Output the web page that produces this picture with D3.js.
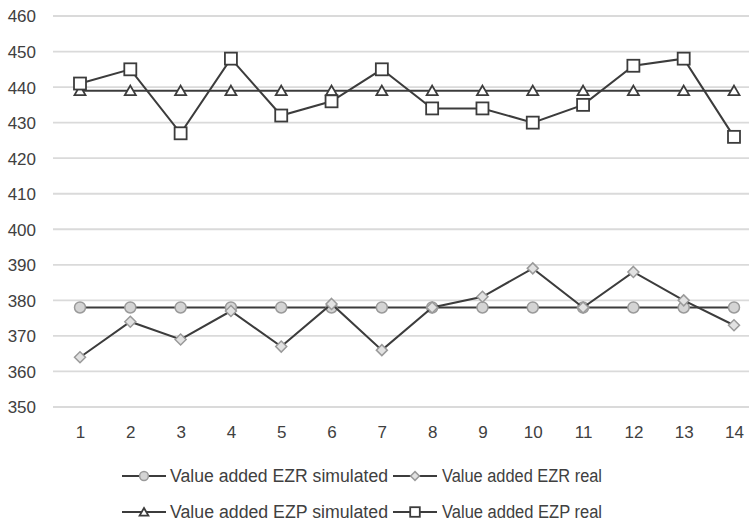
<!DOCTYPE html>
<html><head><meta charset="utf-8">
<script src="https://cdn.jsdelivr.net/npm/d3@7"></script>
<style>body{margin:0;background:#fff;} svg{display:block;}</style>
</head><body>
<svg id="c" width="750" height="522"></svg>
<script>
const categories = [1,2,3,4,5,6,7,8,9,10,11,12,13,14];
const ezrSimulated = [378,378,378,378,378,378,378,378,378,378,378,378,378,378];
const ezrReal = [364,374,369,377,367,379,366,378,381,389,378,388,380,373];
const ezpSimulated = [439,439,439,439,439,439,439,439,439,439,439,439,439,439];
const ezpReal = [441,445,427,448,432,436,445,434,434,430,435,446,448,426];
const yTicks = [350,360,370,380,390,400,410,420,430,440,450,460];
const seriesNames = ["Value added EZR simulated","Value added EZR real","Value added EZP simulated","Value added EZP real"];

const svg = d3.select("#c");
const x = d3.scalePoint().domain(categories).range([80,734]);
const y = d3.scaleLinear().domain([350,460]).range([407,16]);
const ink = "#3c3c3c";
const font = "Liberation Sans, Arial, sans-serif";

// gridlines
svg.append("g").selectAll("line").data(yTicks).join("line")
  .attr("x1",53).attr("x2",749)
  .attr("y1",d=>y(d)).attr("y2",d=>y(d))
  .attr("stroke","#dadada").attr("stroke-width",1.8);

// y axis labels
const yAxis = d3.axisLeft(y).tickValues(yTicks).tickSize(0).tickPadding(0);
const gy = svg.append("g").attr("transform","translate(36,0)").call(yAxis);
gy.select(".domain").remove();
gy.selectAll("text").attr("font-family",font).attr("font-size",17).attr("fill","#404040").attr("dy","0.35em");

// x axis labels
const xAxis = d3.axisBottom(x).tickSize(0).tickPadding(0);
const gx = svg.append("g").attr("transform","translate(0,432)").call(xAxis);
gx.select(".domain").remove();
gx.selectAll("text").attr("font-family",font).attr("font-size",17).attr("fill","#404040").attr("dy","0.35em");

const line = d3.line().x((d,i)=>x(categories[i])).y(d=>y(d));

function drawMarker(g, type, cx, cy, k){
  k = k || 1;
  if(type==="circle"){
    g.append("circle").attr("cx",cx).attr("cy",cy).attr("r",5.5*k)
      .attr("fill","#d4d4d4").attr("stroke","#9a9a9a").attr("stroke-width",1.5);
  } else if(type==="diamond"){
    const s=5.5*k;
    g.append("path").attr("d",`M${cx},${cy-s}L${cx+s},${cy}L${cx},${cy+s}L${cx-s},${cy}Z`)
      .attr("fill","#e2e2e2").attr("stroke","#9a9a9a").attr("stroke-width",1.5);
  } else if(type==="triangle"){
    g.append("path").attr("d",`M${cx},${cy-5*k}L${cx+5.5*k},${cy+4.5*k}L${cx-5.5*k},${cy+4.5*k}Z`)
      .attr("fill","#fff").attr("stroke",ink).attr("stroke-width",1.8);
  } else if(type==="square"){
    const s=6*k;
    g.append("rect").attr("x",cx-s).attr("y",cy-s).attr("width",2*s).attr("height",2*s)
      .attr("fill","#fff").attr("stroke",ink).attr("stroke-width",1.8);
  }
}

const series = [
  {name:seriesNames[0], values:ezrSimulated, marker:"circle"},
  {name:seriesNames[1], values:ezrReal, marker:"diamond"},
  {name:seriesNames[2], values:ezpSimulated, marker:"triangle"},
  {name:seriesNames[3], values:ezpReal, marker:"square"}
];

series.forEach(s=>{
  const g = svg.append("g");
  g.append("path").datum(s.values).attr("d",line)
    .attr("fill","none").attr("stroke",ink).attr("stroke-width",2);
  s.values.forEach((v,i)=>drawMarker(g, s.marker, x(categories[i]), y(v)));
});

// legend
const legendPos = [
  {sx:122, tx:170, tw:218, ty:476},
  {sx:393, tx:442, tw:160, ty:476},
  {sx:122, tx:170, tw:218, ty:512},
  {sx:393, tx:442, tw:160, ty:512}
];
series.forEach((s,i)=>{
  const p = legendPos[i];
  const g = svg.append("g");
  g.append("line").attr("x1",p.sx).attr("x2",p.sx+44).attr("y1",p.ty).attr("y2",p.ty)
    .attr("stroke",ink).attr("stroke-width",2);
  drawMarker(g, s.marker, p.sx+22, p.ty, 0.8);
  g.append("text").attr("x",p.tx).attr("y",p.ty).attr("dy","0.35em")
    .attr("font-family",font).attr("font-size",18)
    .attr("fill","#404040").attr("textLength",p.tw).attr("lengthAdjust","spacingAndGlyphs")
    .text(s.name);
});
</script>
</body></html>
